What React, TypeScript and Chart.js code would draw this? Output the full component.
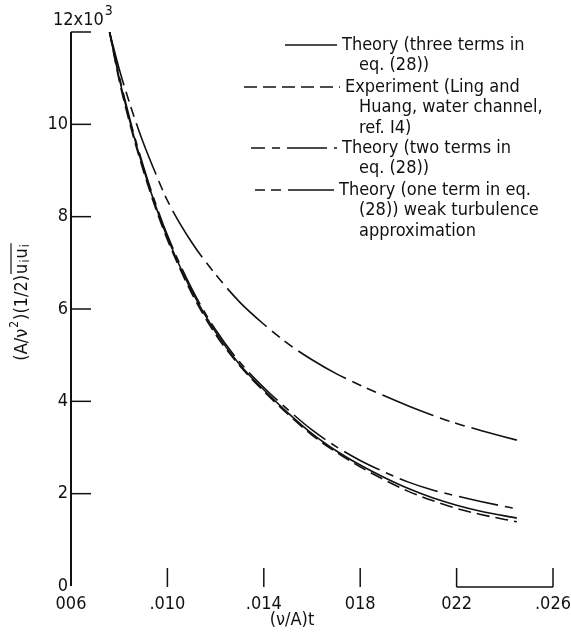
import React, { useEffect, useRef } from 'react';
import { Chart, registerables } from 'chart.js';

Chart.register(...registerables);

// (nu/A)t values where the curves were read
const xValues = [0.0076, 0.008, 0.0085, 0.009, 0.0095, 0.010, 0.011, 0.012, 0.013, 0.014, 0.015, 0.016, 0.017, 0.018, 0.019, 0.020, 0.021, 0.022, 0.023, 0.0245];

// (A/nu^2)(1/2) u_i u_i, in thousands
const threeTerm = [12.0, 11.0, 9.95, 9.05, 8.25, 7.55, 6.4, 5.5, 4.8, 4.25, 3.75, 3.3, 2.93, 2.62, 2.35, 2.11, 1.91, 1.75, 1.62, 1.47];
const experiment = [12.0, 10.95, 9.9, 9.0, 8.2, 7.5, 6.35, 5.45, 4.77, 4.22, 3.72, 3.27, 2.9, 2.58, 2.3, 2.05, 1.85, 1.68, 1.55, 1.39];
const twoTerm = [12.0, 11.05, 10.0, 9.1, 8.3, 7.6, 6.45, 5.55, 4.85, 4.3, 3.82, 3.38, 3.02, 2.72, 2.47, 2.25, 2.08, 1.95, 1.83, 1.67];
const oneTerm = [12.0, 11.2, 10.35, 9.6, 8.95, 8.35, 7.45, 6.75, 6.15, 5.67, 5.25, 4.9, 4.6, 4.35, 4.12, 3.9, 3.7, 3.52, 3.37, 3.16];

const xTickValues = [0.006, 0.010, 0.014, 0.018, 0.022, 0.026];
const xTickLabels = ['006', '.010', '.014', '018', '022', '.026'];
const yTickValues = [0, 2, 4, 6, 8, 10, 12];
const yTickLabels = ['0', '2', '4', '6', '8', '10', ''];

const legendTexts = [
  ['Theory (three terms in', 'eq. (28))'],
  ['Experiment (Ling and', 'Huang, water channel,', 'ref. I4)'],
  ['Theory (two terms in', 'eq. (28))'],
  ['Theory (one term in eq.', '(28)) weak turbulence', 'approximation'],
];

const FONT_FAMILY = "'Liberation Sans Narrow', 'DejaVu Sans Condensed', 'Liberation Sans', sans-serif";
const INK = '#111';

const decorPlugin = {
  id: 'decor',
  afterDraw(chart: any) {
    const ctx = chart.ctx as CanvasRenderingContext2D;
    const xs = chart.scales.x;
    const ys = chart.scales.y;
    const left = chart.chartArea.left;
    const bottom = chart.chartArea.bottom;
    ctx.save();
    ctx.strokeStyle = INK;
    ctx.fillStyle = INK;
    ctx.setLineDash([]);

    // y axis line
    ctx.lineWidth = 2;
    ctx.beginPath();
    ctx.moveTo(left, ys.getPixelForValue(12));
    ctx.lineTo(left, ys.getPixelForValue(0));
    ctx.stroke();

    // y tick marks (inward)
    ctx.lineWidth = 1.5;
    yTickValues.forEach((v) => {
      if (v === 0) return;
      const y = ys.getPixelForValue(v);
      ctx.beginPath();
      ctx.moveTo(left, y);
      ctx.lineTo(left + 20, y);
      ctx.stroke();
    });

    // x tick marks (inward)
    xTickValues.forEach((v, i) => {
      if (i === 0) return;
      const x = xs.getPixelForValue(v);
      ctx.beginPath();
      ctx.moveTo(x, bottom + 1);
      ctx.lineTo(x, bottom - 18);
      ctx.stroke();
    });

    // partial x axis line between .022 and .026
    ctx.beginPath();
    ctx.moveTo(xs.getPixelForValue(0.022), bottom + 1);
    ctx.lineTo(xs.getPixelForValue(0.026), bottom + 1);
    ctx.stroke();

    // 12x10^3 label
    ctx.textBaseline = 'middle';
    ctx.textAlign = 'left';
    ctx.font = `18px ${FONT_FAMILY}`;
    ctx.fillText('12x10', 53, 20);
    const w = ctx.measureText('12x10').width;
    ctx.font = `14px ${FONT_FAMILY}`;
    ctx.fillText('3', 53 + w + 1, 11);

    // x axis title
    ctx.font = `18px ${FONT_FAMILY}`;
    ctx.textAlign = 'center';
    ctx.fillText('(\u03bd/A)t', 292, 620);

    // y axis title, rotated
    ctx.save();
    ctx.translate(22, 302);
    ctx.rotate(-Math.PI / 2);
    ctx.textAlign = 'left';
    ctx.textBaseline = 'middle';
    const big = `18px ${FONT_FAMILY}`;
    const small = `12px ${FONT_FAMILY}`;
    const parts: [string, string, number][] = [
      ['(A/\u03bd', big, 0],
      ['2', small, -7],
      [')(1/2)', big, 0],
      ['u', big, 0],
      ['i', small, 4],
      ['u', big, 0],
      ['i', small, 4],
    ];
    let total = 0;
    parts.forEach(([t, f]) => { ctx.font = f; total += ctx.measureText(t).width + 1; });
    let cx = -total / 2;
    let overStart = 0;
    parts.forEach(([t, f, dy], idx) => {
      ctx.font = f;
      if (idx === 3) overStart = cx;
      ctx.fillText(t, cx, dy);
      cx += ctx.measureText(t).width + 1;
    });
    ctx.lineWidth = 1.2;
    ctx.beginPath();
    ctx.moveTo(overStart, -11);
    ctx.lineTo(cx, -11);
    ctx.stroke();
    ctx.restore();

    // legend
    const entries = [
      { x0: 285, x1: 337, y: 45, off: 0 },
      { x0: 244, x1: 340, y: 87, off: 0 },
      { x0: 251, x1: 337, y: 148, off: 26 },
      { x0: 255, x1: 334, y: 190, off: 62 },
    ];
    const lineGap = 20.5;
    chart.data.datasets.forEach((ds: any, i: number) => {
      const e = entries[i];
      ctx.lineWidth = 1.6;
      ctx.setLineDash(ds.borderDash || []);
      ctx.lineDashOffset = e.off;
      ctx.beginPath();
      ctx.moveTo(e.x0, e.y);
      ctx.lineTo(e.x1, e.y);
      ctx.stroke();
      ctx.setLineDash([]);
      ctx.lineDashOffset = 0;
      ctx.font = `18px ${FONT_FAMILY}`;
      ctx.textAlign = 'left';
      ctx.textBaseline = 'middle';
      legendTexts[i].forEach((line, j) => {
        ctx.fillText(line, j === 0 ? e.x1 + 5 : 359, e.y + j * lineGap);
      });
    });
    ctx.restore();
  },
};

export default function App() {
  const ref = useRef<HTMLCanvasElement>(null);
  useEffect(() => {
    const canvas = ref.current;
    if (!canvas) return;
    const series = [threeTerm, experiment, twoTerm, oneTerm];
    const dashes = [[], [13, 6], [40, 7, 8, 7], [55, 7, 10, 6, 10, 7]];
    const datasets = series.map((vals, i) => ({
      label: legendTexts[i].join(' '),
      data: xValues.map((x, k) => ({ x, y: vals[k] })),
      borderColor: INK,
      borderWidth: 1.6,
      borderDash: dashes[i],
      pointRadius: 0,
      fill: false,
      cubicInterpolationMode: 'monotone' as const,
    }));
    const tickFont = { family: FONT_FAMILY, size: 18 };
    const chart = new Chart(canvas, {
      type: 'line',
      data: { datasets },
      options: {
        responsive: false,
        animation: false,
        layout: { padding: { top: 32, right: 18, left: 0, bottom: 0 } },
        plugins: { legend: { display: false }, tooltip: { enabled: false }, title: { display: false } },
        scales: {
          x: {
            type: 'linear',
            min: 0.006,
            max: 0.026,
            afterBuildTicks: (s: any) => { s.ticks = xTickValues.map((v) => ({ value: v })); },
            afterFit: (s: any) => { s.height = 49; s.paddingLeft = 0; s.paddingRight = 0; },
            grid: { display: false, drawTicks: false, tickLength: 0 },
            border: { display: false },
            ticks: {
              callback: (_v: any, i: number) => xTickLabels[i],
              autoSkip: false,
              maxRotation: 0,
              padding: 8,
              color: INK,
              font: tickFont,
            },
          },
          y: {
            type: 'linear',
            min: 0,
            max: 12,
            afterBuildTicks: (s: any) => { s.ticks = yTickValues.map((v) => ({ value: v })); },
            afterFit: (s: any) => { s.width = 71; s.paddingTop = 0; s.paddingBottom = 0; },
            grid: { display: false, drawTicks: false, tickLength: 0 },
            border: { display: false },
            ticks: {
              callback: (_v: any, i: number) => yTickLabels[i],
              autoSkip: false,
              padding: 3,
              color: INK,
              font: tickFont,
            },
          },
        },
      },
      plugins: [decorPlugin],
    });
    return () => chart.destroy();
  }, []);
  return (
    <div style={{ position: 'fixed', left: 0, top: 0, width: 571, height: 635, background: '#fff' }}>
      <canvas ref={ref} width={571} height={635} style={{ display: 'block' }} />
    </div>
  );
}
